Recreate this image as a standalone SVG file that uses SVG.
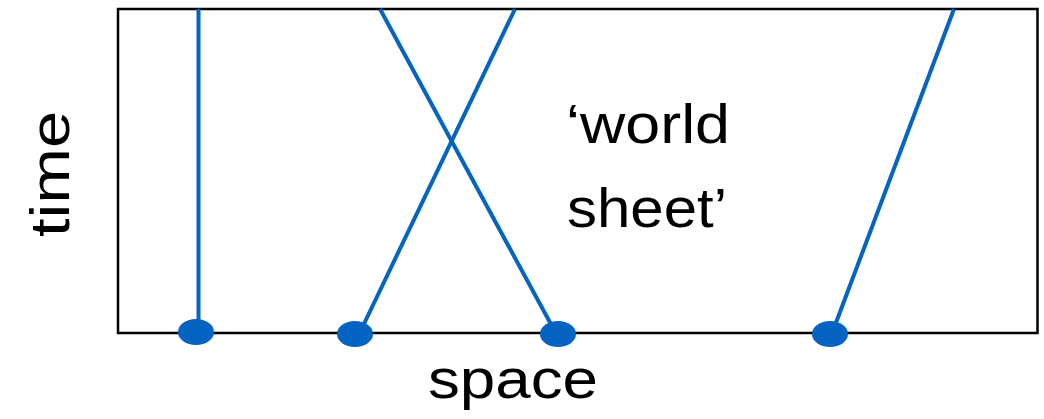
<svg xmlns="http://www.w3.org/2000/svg" width="1044" height="419" viewBox="0 0 1044 419">
<style>
.frame{fill:#fff;stroke:#000;stroke-width:2.5}
.wl{stroke:#0563C1;stroke-width:4;fill:none}
.pt{fill:#0563C1}
.lbl{font-family:"Liberation Sans",Arial,sans-serif;font-size:56px;fill:#000}
</style>
<rect width="1044" height="419" fill="#fff"/>
<g id="sheet"><rect class="frame" x="118" y="9" width="919.5" height="324"/></g>
<g id="connectors">
<line class="wl" x1="198.5" y1="9" x2="198.5" y2="331"/>
<line class="wl" x1="362" y1="328" x2="515" y2="9"/>
<line class="wl" x1="380" y1="9" x2="553" y2="328"/>
<line class="wl" x1="834" y1="328" x2="954" y2="9"/>
</g>
<g id="p1"><ellipse class="pt" cx="196" cy="332" rx="18" ry="13"/></g>
<g id="p2"><ellipse class="pt" cx="355" cy="334" rx="18" ry="13"/></g>
<g id="p3"><ellipse class="pt" cx="558" cy="334" rx="18" ry="13"/></g>
<g id="p4"><ellipse class="pt" cx="830" cy="334" rx="18" ry="13"/></g>
<g id="label-time"><text class="lbl" transform="translate(69,174) rotate(-90)" x="-63" textLength="126" lengthAdjust="spacingAndGlyphs">time</text></g>
<g id="label-space"><text class="lbl" x="428" y="398" textLength="170" lengthAdjust="spacingAndGlyphs">space</text></g>
<g id="label-world"><text class="lbl" x="566" y="143" textLength="164" lengthAdjust="spacingAndGlyphs">‘world</text><text class="lbl" x="567" y="227" textLength="160" lengthAdjust="spacingAndGlyphs">sheet’</text></g>
</svg>
